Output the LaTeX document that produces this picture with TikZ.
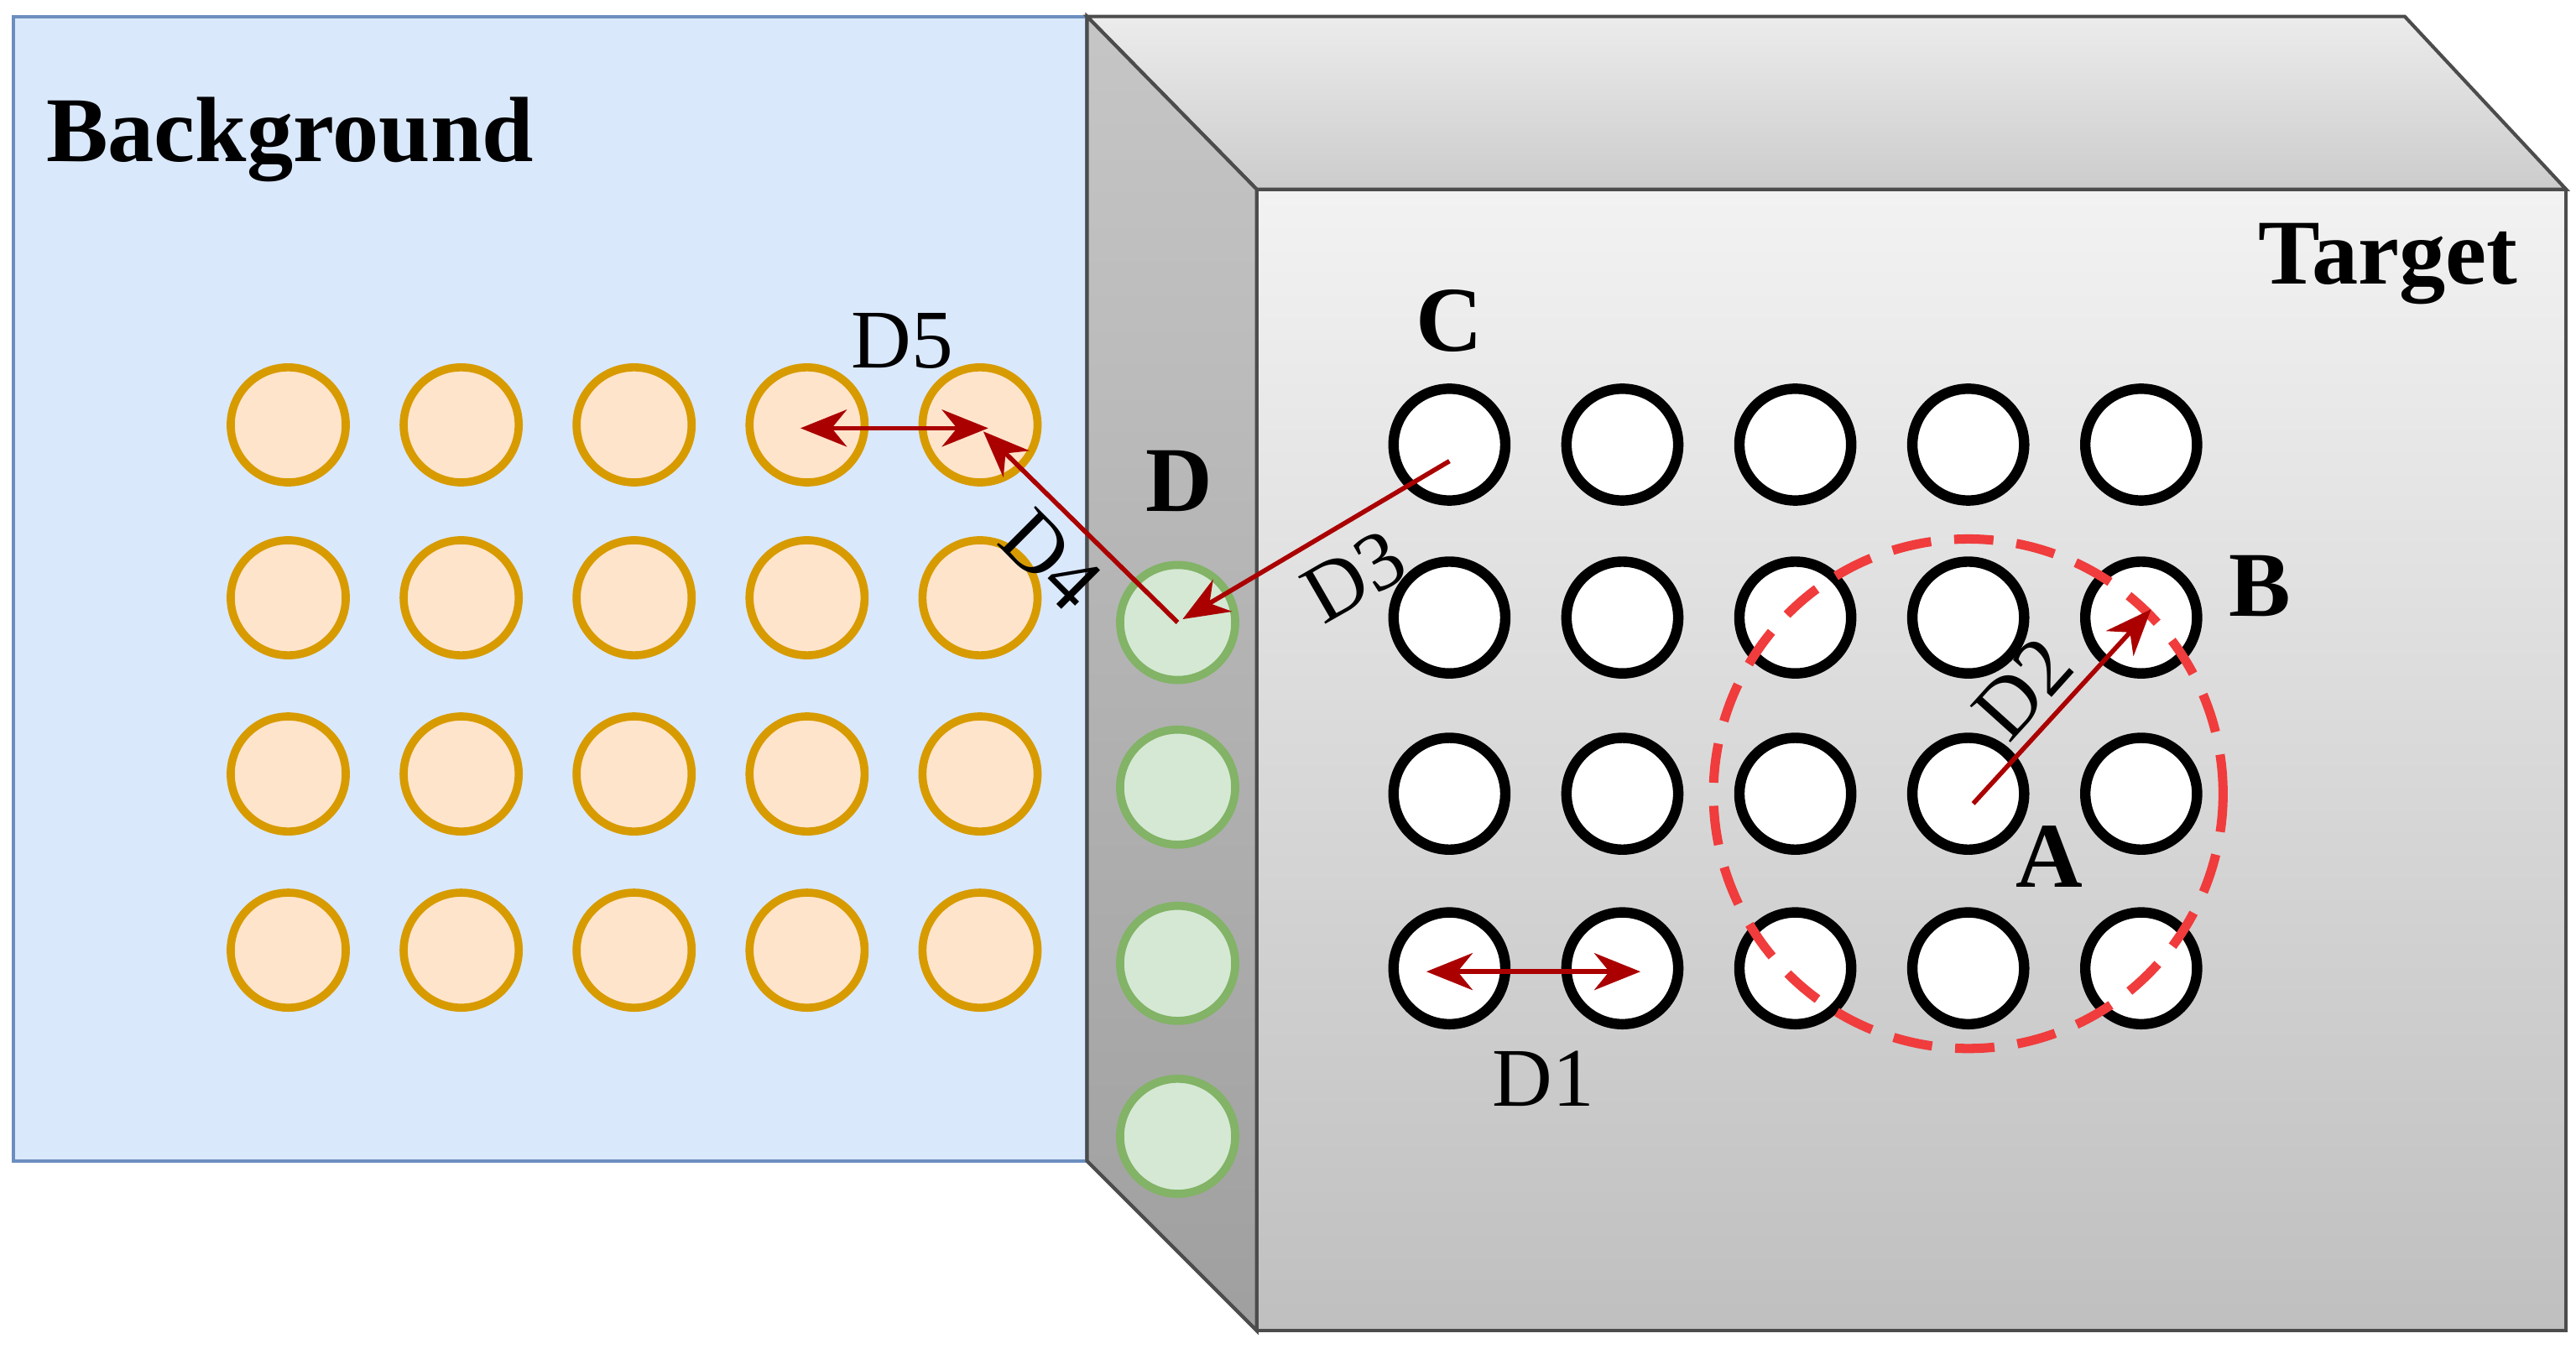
\documentclass[tikz,border=0pt]{standalone}
\usepackage{fontspec}
\setmainfont{Liberation Serif}
\usetikzlibrary{arrows.meta}
\definecolor{bgblue}{RGB}{218,232,252}
\definecolor{bgedge}{RGB}{108,142,191}
\definecolor{orfill}{RGB}{255,228,204}
\definecolor{oredge}{RGB}{215,155,0}
\definecolor{grfill}{RGB}{213,232,212}
\definecolor{gredge}{RGB}{130,179,102}
\definecolor{arr}{RGB}{170,0,0}
\definecolor{dash}{RGB}{240,60,60}
\tikzset{
 oc/.style={circle,minimum size=70pt*1.42,inner sep=0,draw=oredge,fill=orfill,line width=7pt},
 gc/.style={circle,minimum size=70pt*1.42,inner sep=0,draw=gredge,fill=grfill,line width=7pt},
 wc/.style={circle,minimum size=68pt*1.42,inner sep=0,draw=black,fill=white,line width=9pt},
 ar/.style={draw=arr,line width=4pt,-{Stealth[length=40pt,width=32pt]}},
 dar/.style={draw=arr,line width=4pt,{Stealth[length=40pt,width=32pt]}-{Stealth[length=40pt,width=32pt]}},
 lbl/.style={font=\fontsize{72}{74}\selectfont,inner sep=0},
 blbl/.style={font=\fontsize{80}{82}\selectfont\bfseries,inner sep=0},
 face/.style={draw=black!70,line width=3pt}
}
\begin{document}
\begin{tikzpicture}[x=0.05cm,y=-0.05cm]
\useasboundingbox (0,0) rectangle (1564,819);
\fill[white] (0,0) rectangle (1564,819);
% background
\draw[fill=bgblue,draw=bgedge,line width=3pt] (8,10) rectangle (660,705);
% box
\shade[top color=gray!15,bottom color=gray!40] (660,10) -- (1460,10) -- (1558,115) -- (763,115) -- cycle;
\draw[face] (660,10) -- (1460,10) -- (1558,115) -- (763,115) -- cycle;
\shade[top color=gray!45,bottom color=gray!75] (660,10) -- (763,115) -- (763,808) -- (660,705) -- cycle;
\draw[face] (660,10) -- (763,115) -- (763,808) -- (660,705) -- cycle;
\shade[top color=gray!10,bottom color=gray!50] (763,115) rectangle (1558,808);
\draw[face] (763,115) rectangle (1558,808);
% circles
\foreach \c [count=\i] in {175,280,385,490,595}
 \foreach \r [count=\j] in {258,363,470,577}
  \node[oc] (o\i\j) at (\c,\r) {};
\foreach \r [count=\j] in {378,478,585,690}
  \node[gc] (g\j) at (715,\r) {};
\foreach \c [count=\i] in {880,985,1090,1195,1300}
 \foreach \r [count=\j] in {270,375,482,588}
  \node[wc] (w\i\j) at (\c,\r) {};
\node[circle,draw=dash,dash pattern=on 34pt off 20pt,line width=8pt,minimum size=310*1.42pt,inner sep=0] (rc) at (1195,482) {};
% labels
\node[blbl] (tbg) at (176,85) {Background};
\node[blbl] (ttg) at (1450,160) {Target};
\node[blbl] (tC) at (880,195) {C};
\node[blbl] (tD) at (716,292) {D};
\node[blbl] (tB) at (1372,356) {B};
\node[blbl] (tA) at (1244,520) {A};
% arrows
\coordinate (d1a) at (866,590); \coordinate (d1b) at (996,590);
\draw[dar] (d1a) -- (d1b);
\node[lbl] (l1) at (937,655) {D1};
\coordinate (d2a) at (1198,488); \coordinate (d2b) at (1306,370);
\draw[ar] (d2a) -- (d2b);
\node[lbl,rotate=48] (l2) at (1228,418) {D2};
\coordinate (d3a) at (880,280); \coordinate (d3b) at (718,376);
\draw[ar] (d3a) -- (d3b);
\node[lbl,rotate=30] (l3) at (822,350) {D3};
\coordinate (d4a) at (715,378); \coordinate (d4b) at (597,262);
\draw[ar] (d4a) -- (d4b);
\node[lbl,rotate=-45] (l4) at (638,340) {D4};
\coordinate (d5a) at (486,260); \coordinate (d5b) at (600,260);
\draw[dar] (d5a) -- (d5b);
\node[lbl] (l5) at (548,207) {D5};
\end{tikzpicture}
\end{document}
